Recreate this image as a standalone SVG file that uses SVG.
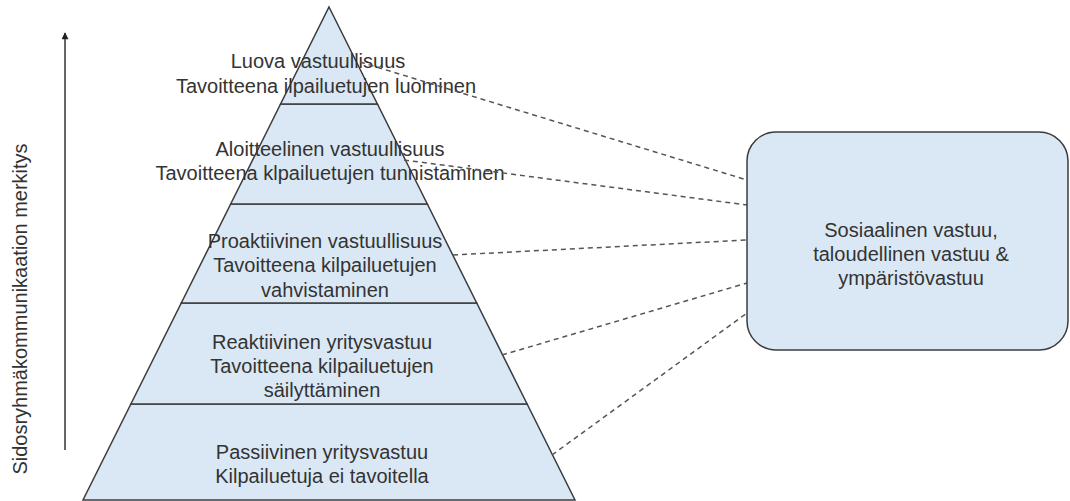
<svg xmlns="http://www.w3.org/2000/svg" width="1070" height="501" viewBox="0 0 1070 501">
<defs>
<style>
.layer{fill:#dae8f5;stroke:#3c3c3c;stroke-width:1.5;stroke-linejoin:miter}
.t{font-family:"Liberation Sans",Arial,sans-serif;font-size:20px;fill:#333;text-anchor:middle}
.dash{fill:none;stroke:#555;stroke-width:1.5;stroke-dasharray:5 4}
</style>
<marker id="ah" viewBox="0 0 10 10" refX="9" refY="5" markerWidth="8" markerHeight="7" markerUnits="userSpaceOnUse" orient="auto">
<path d="M0,0 L10,5 L0,10 z" fill="#222"/>
</marker>
</defs>
<rect width="1070" height="501" fill="#fff"/>
<g id="axis">
<line x1="65" y1="450" x2="65" y2="33" stroke="#333" stroke-width="1.5" marker-end="url(#ah)"/>
<text class="t" transform="translate(27,309) rotate(-90)">Sidosryhmäkommunikaation merkitys</text>
</g>
<g id="layer5">
<polygon class="layer" points="130.9,404 527.1,404 575,500 83,500"/>
<text class="t" x="322" y="459">Passiivinen yritysvastuu</text>
<text class="t" x="322" y="483">Kilpailuetuja ei tavoitella</text>
</g>
<g id="layer4">
<polygon class="layer" points="181.3,303 476.7,303 527.1,404 130.9,404"/>
<text class="t" x="322" y="349">Reaktiivinen yritysvastuu</text>
<text class="t" x="322" y="373">Tavoitteena kilpailuetujen</text>
<text class="t" x="322" y="397">säilyttäminen</text>
</g>
<g id="layer3">
<polygon class="layer" points="230.7,204 427.3,204 476.7,303 181.3,303"/>
<text class="t" x="325" y="248">Proaktiivinen vastuullisuus</text>
<text class="t" x="325" y="272">Tavoitteena kilpailuetujen</text>
<text class="t" x="325" y="297">vahvistaminen</text>
</g>
<g id="layer2">
<polygon class="layer" points="280.6,104 377.4,104 427.3,204 230.7,204"/>
<text class="t" x="330" y="156">Aloitteelinen vastuullisuus</text>
<text class="t" x="330" y="180">Tavoitteena klpailuetujen tunnistaminen</text>
</g>
<g id="layer1">
<polygon class="layer" points="329,7 377.4,104 280.6,104"/>
<text class="t" x="318" y="68">Luova vastuullisuus</text>
<text class="t" x="326" y="93">Tavoitteena ilpailuetujen luominen</text>
</g>
<g id="connectors">
<line class="dash" x1="360" y1="62" x2="747" y2="180"/>
<line class="dash" x1="404" y1="160" x2="747" y2="205"/>
<line class="dash" x1="453" y1="255" x2="747" y2="240"/>
<line class="dash" x1="502" y1="355" x2="747" y2="283"/>
<line class="dash" x1="552" y1="455" x2="747" y2="313"/>
</g>
<g id="box">
<rect x="747" y="132" width="321" height="218" rx="29" ry="29" fill="#dae8f5" stroke="#3c3c3c" stroke-width="1.5"/>
<text class="t" x="911" y="237">Sosiaalinen vastuu,</text>
<text class="t" x="911" y="261">taloudellinen vastuu &amp;</text>
<text class="t" x="911" y="285">ympäristövastuu</text>
</g>
</svg>
